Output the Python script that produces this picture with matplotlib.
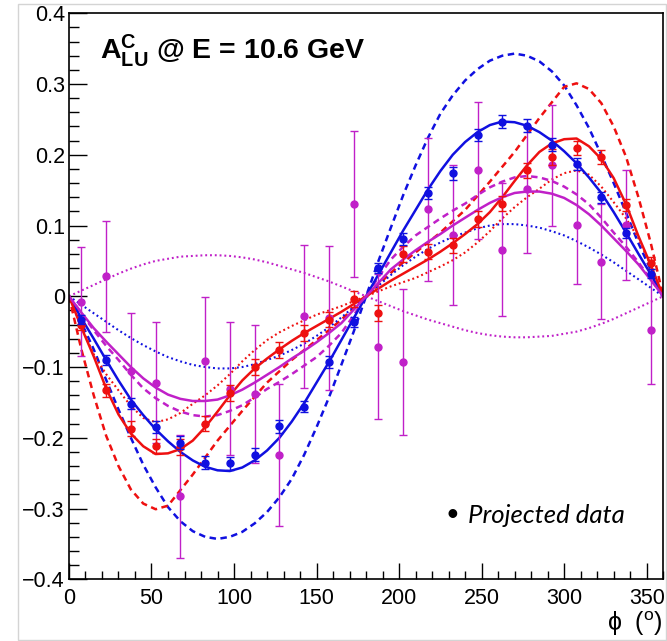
import matplotlib
matplotlib.use('Agg')
import matplotlib.pyplot as plt
from matplotlib.patches import Rectangle

plt.rcParams['font.family'] = ['Liberation Sans', 'DejaVu Sans']
plt.rcParams['mathtext.fontset'] = 'custom'
plt.rcParams['mathtext.rm'] = 'Liberation Sans'
plt.rcParams['mathtext.it'] = 'Liberation Sans:italic'
plt.rcParams['mathtext.bf'] = 'Liberation Sans:bold'

# projected data, 24 bins in phi
phi_bins = [7.5, 22.5, 37.5, 52.5, 67.5, 82.5, 97.5, 112.5, 127.5, 142.5, 157.5, 172.5,
            187.5, 202.5, 217.5, 232.5, 247.5, 262.5, 277.5, 292.5, 307.5, 322.5, 337.5, 352.5]

blue_pts = [-0.033, -0.090, -0.152, -0.185, -0.207, -0.235, -0.236, -0.224, -0.184, -0.156, -0.093, -0.036,
            0.040, 0.081, 0.146, 0.174, 0.228, 0.247, 0.241, 0.214, 0.187, 0.140, 0.090, 0.032]
blue_err = [0.006, 0.007, 0.008, 0.008, 0.009, 0.009, 0.009, 0.009, 0.009, 0.008, 0.008, 0.007,
            0.007, 0.008, 0.008, 0.009, 0.009, 0.009, 0.009, 0.009, 0.008, 0.008, 0.007, 0.006]

red_pts = [-0.040, -0.133, -0.187, -0.212, -0.213, -0.180, -0.137, -0.100, -0.076, -0.052, -0.033, -0.004,
           -0.024, 0.060, 0.063, 0.072, 0.109, 0.131, 0.178, 0.197, 0.209, 0.197, 0.129, 0.047]
red_err = [0.008, 0.009, 0.010, 0.010, 0.011, 0.011, 0.011, 0.011, 0.011, 0.011, 0.011, 0.011,
           0.011, 0.011, 0.011, 0.011, 0.011, 0.011, 0.011, 0.011, 0.010, 0.010, 0.009, 0.008]

mag_pts = [-0.008, 0.028, -0.105, -0.122, -0.283, -0.091, -0.131, -0.138, -0.224, -0.028, -0.031, 0.130,
           -0.071, -0.093, 0.123, 0.087, 0.178, 0.066, 0.151, 0.185, 0.101, 0.049, 0.101, -0.047]
mag_err = [0.077, 0.079, 0.081, 0.085, 0.087, 0.090, 0.094, 0.097, 0.100, 0.101, 0.102, 0.103,
           0.103, 0.103, 0.101, 0.099, 0.097, 0.094, 0.090, 0.086, 0.084, 0.081, 0.078, 0.077]

# model curves, read every 7.5 degrees
phi_grid = [i * 7.5 for i in range(49)]

blue_solid = [0, -0.031, -0.060, -0.090, -0.119, -0.146, -0.168, -0.188, -0.205, -0.220, -0.232, -0.241,
              -0.246, -0.247, -0.242, -0.232, -0.218, -0.200, -0.177, -0.151, -0.122, -0.093, -0.062, -0.031, 0,
              0.031, 0.062, 0.093, 0.122, 0.151, 0.177, 0.200, 0.218, 0.232, 0.242, 0.247, 0.246,
              0.241, 0.232, 0.220, 0.205, 0.188, 0.168, 0.146, 0.119, 0.090, 0.060, 0.031, 0]
blue_dashed = [0, -0.037, -0.075, -0.118, -0.160, -0.200, -0.238, -0.270, -0.298, -0.318, -0.332, -0.340,
               -0.343, -0.340, -0.333, -0.321, -0.305, -0.284, -0.258, -0.224, -0.185, -0.143, -0.097, -0.050, 0,
               0.050, 0.097, 0.143, 0.185, 0.224, 0.258, 0.284, 0.305, 0.321, 0.333, 0.340, 0.343,
               0.340, 0.332, 0.318, 0.298, 0.270, 0.238, 0.200, 0.160, 0.118, 0.075, 0.037, 0]
blue_dotted = [0, -0.012, -0.024, -0.036, -0.048, -0.059, -0.069, -0.078, -0.086, -0.092, -0.097, -0.100,
               -0.102, -0.102, -0.100, -0.096, -0.090, -0.084, -0.076, -0.067, -0.056, -0.044, -0.030, -0.015, 0,
               0.015, 0.030, 0.044, 0.056, 0.067, 0.076, 0.084, 0.090, 0.096, 0.100, 0.102, 0.102,
               0.100, 0.097, 0.092, 0.086, 0.078, 0.069, 0.059, 0.048, 0.036, 0.024, 0.012, 0]
red_solid = [0, -0.044, -0.085, -0.130, -0.167, -0.194, -0.212, -0.223, -0.222, -0.216, -0.204, -0.185,
             -0.163, -0.140, -0.119, -0.102, -0.088, -0.075, -0.063, -0.052, -0.042, -0.032, -0.022, -0.011, 0,
             0.011, 0.022, 0.032, 0.042, 0.052, 0.063, 0.075, 0.088, 0.102, 0.119, 0.140, 0.163,
             0.185, 0.204, 0.216, 0.222, 0.223, 0.212, 0.194, 0.167, 0.130, 0.085, 0.044, 0]
red_dashed = [0, -0.075, -0.140, -0.197, -0.240, -0.273, -0.293, -0.301, -0.296, -0.274, -0.252, -0.228,
              -0.204, -0.183, -0.162, -0.142, -0.122, -0.106, -0.090, -0.076, -0.062, -0.048, -0.033, -0.017, 0,
              0.017, 0.033, 0.048, 0.062, 0.076, 0.090, 0.106, 0.122, 0.142, 0.162, 0.183, 0.204,
              0.228, 0.252, 0.274, 0.296, 0.301, 0.293, 0.273, 0.240, 0.197, 0.140, 0.075, 0]
red_dotted = [0, -0.043, -0.082, -0.110, -0.133, -0.155, -0.172, -0.178, -0.174, -0.165, -0.152, -0.140,
              -0.126, -0.110, -0.092, -0.076, -0.062, -0.051, -0.042, -0.034, -0.026, -0.020, -0.014, -0.007, 0,
              0.007, 0.014, 0.020, 0.026, 0.034, 0.042, 0.051, 0.062, 0.076, 0.092, 0.110, 0.126,
              0.140, 0.152, 0.165, 0.174, 0.178, 0.172, 0.155, 0.133, 0.110, 0.082, 0.043, 0]
mag_solid = [0, -0.023, -0.045, -0.064, -0.082, -0.100, -0.116, -0.129, -0.139, -0.145, -0.148, -0.148,
             -0.146, -0.140, -0.132, -0.122, -0.111, -0.100, -0.088, -0.077, -0.065, -0.052, -0.038, -0.019, 0,
             0.019, 0.038, 0.052, 0.065, 0.077, 0.088, 0.100, 0.111, 0.122, 0.132, 0.140, 0.146,
             0.148, 0.148, 0.145, 0.139, 0.129, 0.116, 0.100, 0.082, 0.064, 0.045, 0.023, 0]
mag_dashed = [0, -0.024, -0.048, -0.070, -0.090, -0.111, -0.130, -0.144, -0.155, -0.163, -0.168, -0.170,
              -0.168, -0.162, -0.154, -0.143, -0.131, -0.121, -0.110, -0.098, -0.086, -0.070, -0.052, -0.027, 0,
              0.027, 0.052, 0.070, 0.086, 0.098, 0.110, 0.121, 0.131, 0.143, 0.154, 0.162, 0.168,
              0.170, 0.168, 0.163, 0.155, 0.144, 0.130, 0.111, 0.090, 0.070, 0.048, 0.024, 0]
mag_dotted = [0, 0.008, 0.016, 0.024, 0.032, 0.039, 0.045, 0.050, 0.053, 0.056, 0.057, 0.058,
              0.058, 0.057, 0.055, 0.052, 0.048, 0.043, 0.038, 0.033, 0.027, 0.021, 0.014, 0.007, 0,
              -0.007, -0.014, -0.021, -0.027, -0.033, -0.038, -0.043, -0.048, -0.052, -0.055, -0.057, -0.058,
              -0.058, -0.057, -0.056, -0.053, -0.050, -0.045, -0.039, -0.032, -0.024, -0.016, -0.008, 0]

BLUE = '#1010e0'
RED = '#ee1010'
MAG = '#c020c8'

fig = plt.figure(figsize=(6.67, 6.41), dpi=100)
fig.patches.append(Rectangle((0.027, 0.0016), 0.971, 0.992, transform=fig.transFigure,
                             fill=False, edgecolor='#d4d4d4', lw=1))
ax = fig.add_axes([0.1034, 0.0963, 0.8909, 0.883])

dash = (0, (2.6, 1.8))
dot = (0, (0.9, 1.4))
ax.plot(phi_grid, blue_dashed, color=BLUE, lw=1.8, ls=dash)
ax.plot(phi_grid, red_dashed, color=RED, lw=1.8, ls=dash)
ax.plot(phi_grid, mag_dashed, color=MAG, lw=1.8, ls=dash)
ax.plot(phi_grid, blue_dotted, color=BLUE, lw=1.5, ls=dot)
ax.plot(phi_grid, red_dotted, color=RED, lw=1.5, ls=dot)
ax.plot(phi_grid, mag_dotted, color=MAG, lw=1.5, ls=dot)
ax.plot(phi_grid, blue_solid, color=BLUE, lw=1.8)
ax.plot(phi_grid, red_solid, color=RED, lw=1.8)
ax.plot(phi_grid, mag_solid, color=MAG, lw=1.8)

ax.errorbar(phi_bins, mag_pts, yerr=mag_err, fmt='o', color=MAG, ms=5, elinewidth=1,
            capsize=3, capthick=1, zorder=4)
ax.errorbar(phi_bins, red_pts, yerr=red_err, fmt='o', color=RED, ms=5, elinewidth=1,
            capsize=3, capthick=1, zorder=5)
ax.errorbar(phi_bins, blue_pts, yerr=blue_err, fmt='o', color=BLUE, ms=5, elinewidth=1,
            capsize=3, capthick=1, zorder=6)

ax.set_xlim(0, 360)
ax.set_ylim(-0.4, 0.4)
ax.set_xticks([0, 50, 100, 150, 200, 250, 300, 350])
ax.set_xticks(range(0, 361, 10), minor=True)
ax.set_yticks([-0.4, -0.3, -0.2, -0.1, 0, 0.1, 0.2, 0.3, 0.4])
ax.set_yticklabels(['\u22120.4', '\u22120.3', '\u22120.2', '\u22120.1', '0', '0.1', '0.2', '0.3', '0.4'])
ax.set_yticks([i / 100 for i in range(-40, 41, 2)], minor=True)
ax.tick_params(axis='y', which='major', direction='in', length=13, width=1, labelsize=15.5, pad=3)
ax.tick_params(axis='y', which='minor', direction='in', length=7, width=1)
ax.tick_params(axis='x', which='major', direction='in', length=11.5, width=1, labelsize=15.5, pad=6)
ax.tick_params(axis='x', which='minor', direction='in', length=6, width=1)
for s in ax.spines.values():
    s.set_linewidth(1.2)

ax.text(0.052, 0.919, r'$\mathbf{A^{C}_{LU}}$ @ E = 10.6 GeV', transform=ax.transAxes,
        fontsize=20.5, fontweight='bold', va='baseline')

fig.text(0.994, 0.0156, '\u03d5  ($^{\\rm o}$)', ha='right', va='baseline', fontsize=18)

fig.text(452 / 667, 1 - 515 / 641, '\u2022', ha='center', va='center', fontsize=17,
         family=['Lato', 'DejaVu Sans'])
fig.text(468 / 667, 1 - 523 / 641, 'Projected data', ha='left', va='baseline', fontsize=18.5,
         style='italic', family=['Lato', 'DejaVu Sans'])

fig.savefig('out.png', dpi=100)
